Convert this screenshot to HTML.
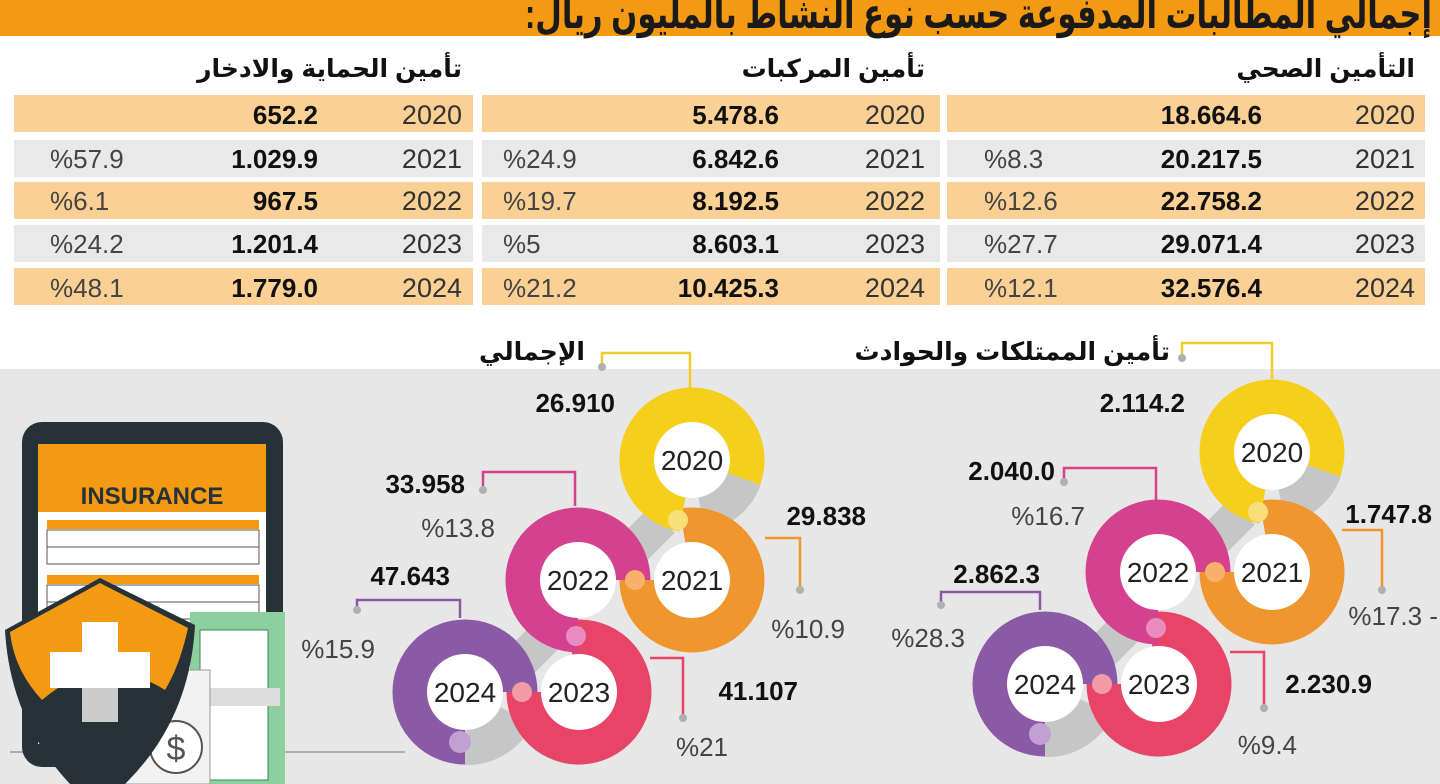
<!DOCTYPE html>
<html><head><meta charset="utf-8"><style>
html,body{margin:0;padding:0;background:#fff;}
svg{display:block;}
text{font-family:"Liberation Sans","DejaVu Sans",sans-serif;}
.yr{font-size:27px;fill:#333;}
.val{font-size:26px;font-weight:bold;fill:#111;}
.pct{font-size:26px;fill:#444;}
.hd{font-size:25px;font-weight:bold;fill:#111;}
.ry{font-size:28px;fill:#222;}
</style></head><body>
<svg width="1440" height="784" viewBox="0 0 1440 784" xmlns="http://www.w3.org/2000/svg">
<rect width="1440" height="784" fill="#fff"/>
<rect x="0" y="0" width="1440" height="36" fill="#f39a12"/>
<text x="525" y="28" textLength="907" lengthAdjust="spacingAndGlyphs" style="font-size:42px;font-weight:bold;fill:#1a1a1a">إجمالي المطالبات المدفوعة حسب نوع النشاط بالمليون ريال:&#x200F;</text>

<text class="hd" x="1415" y="77" text-anchor="end">التأمين الصحي</text>
<text class="hd" x="925" y="77" text-anchor="end">تأمين المركبات</text>
<text class="hd" x="462" y="77" text-anchor="end">تأمين الحماية والادخار</text>

<g>
<rect x="947" y="95" width="478" height="37" fill="#fbd095"/>
<rect x="482" y="95" width="458" height="37" fill="#fbd095"/>
<rect x="14" y="95" width="459" height="37" fill="#fbd095"/>
<rect x="947" y="140" width="478" height="37" fill="#e9e9e9"/>
<rect x="482" y="140" width="458" height="37" fill="#e9e9e9"/>
<rect x="14" y="140" width="459" height="37" fill="#e9e9e9"/>
<rect x="947" y="182" width="478" height="37" fill="#fbd095"/>
<rect x="482" y="182" width="458" height="37" fill="#fbd095"/>
<rect x="14" y="182" width="459" height="37" fill="#fbd095"/>
<rect x="947" y="225" width="478" height="37" fill="#e9e9e9"/>
<rect x="482" y="225" width="458" height="37" fill="#e9e9e9"/>
<rect x="14" y="225" width="459" height="37" fill="#e9e9e9"/>
<rect x="947" y="268" width="478" height="37" fill="#fbd095"/>
<rect x="482" y="268" width="458" height="37" fill="#fbd095"/>
<rect x="14" y="268" width="459" height="37" fill="#fbd095"/>
</g>
<g>
<text class="yr" x="1415" y="124" text-anchor="end">2020</text><text class="val" x="1262" y="124" text-anchor="end">18.664.6</text>
<text class="yr" x="1415" y="168" text-anchor="end">2021</text><text class="val" x="1262" y="168" text-anchor="end">20.217.5</text><text class="pct" x="984" y="168">%8.3</text>
<text class="yr" x="1415" y="210" text-anchor="end">2022</text><text class="val" x="1262" y="210" text-anchor="end">22.758.2</text><text class="pct" x="984" y="210">%12.6</text>
<text class="yr" x="1415" y="253" text-anchor="end">2023</text><text class="val" x="1262" y="253" text-anchor="end">29.071.4</text><text class="pct" x="984" y="253">%27.7</text>
<text class="yr" x="1415" y="297" text-anchor="end">2024</text><text class="val" x="1262" y="297" text-anchor="end">32.576.4</text><text class="pct" x="984" y="297">%12.1</text>
</g>
<g>
<text class="yr" x="925" y="124" text-anchor="end">2020</text><text class="val" x="779" y="124" text-anchor="end">5.478.6</text>
<text class="yr" x="925" y="168" text-anchor="end">2021</text><text class="val" x="779" y="168" text-anchor="end">6.842.6</text><text class="pct" x="503" y="168">%24.9</text>
<text class="yr" x="925" y="210" text-anchor="end">2022</text><text class="val" x="779" y="210" text-anchor="end">8.192.5</text><text class="pct" x="503" y="210">%19.7</text>
<text class="yr" x="925" y="253" text-anchor="end">2023</text><text class="val" x="779" y="253" text-anchor="end">8.603.1</text><text class="pct" x="503" y="253">%5</text>
<text class="yr" x="925" y="297" text-anchor="end">2024</text><text class="val" x="779" y="297" text-anchor="end">10.425.3</text><text class="pct" x="503" y="297">%21.2</text>
</g>
<g>
<text class="yr" x="462" y="124" text-anchor="end">2020</text><text class="val" x="318" y="124" text-anchor="end">652.2</text>
<text class="yr" x="462" y="168" text-anchor="end">2021</text><text class="val" x="318" y="168" text-anchor="end">1.029.9</text><text class="pct" x="50" y="168">%57.9</text>
<text class="yr" x="462" y="210" text-anchor="end">2022</text><text class="val" x="318" y="210" text-anchor="end">967.5</text><text class="pct" x="50" y="210">%6.1</text>
<text class="yr" x="462" y="253" text-anchor="end">2023</text><text class="val" x="318" y="253" text-anchor="end">1.201.4</text><text class="pct" x="50" y="253">%24.2</text>
<text class="yr" x="462" y="297" text-anchor="end">2024</text><text class="val" x="318" y="297" text-anchor="end">1.779.0</text><text class="pct" x="50" y="297">%48.1</text>
</g>

<rect x="0" y="369" width="1440" height="415" fill="#e7e7e7"/>
<line x1="10" y1="752" x2="405" y2="752" stroke="#999" stroke-width="1.5"/>

<text class="hd" x="585" y="360" text-anchor="end">الإجمالي</text>
<text class="hd" x="1170" y="360" text-anchor="end">تأمين الممتلكات والحوادث</text>

<defs>
<g id="rings">
  <g fill="none" stroke="#c6c6c6" stroke-width="36" stroke-linecap="butt">
    <path d="M 51.7 18.8 A 55 55 0 0 1 9.6 54.2"/>
    <line x1="-30" y1="60" x2="-70" y2="100"/>
    <line x1="-140" y1="170" x2="-180" y2="210"/>
    <path d="M -160 260 A 55 55 0 0 0 -113 287"/>
    <path d="M -227 287 A 55 55 0 0 0 -175 255"/>
  </g>
  <g fill="none" stroke-width="35">
    <path d="M -227 287 A 55 55 0 1 1 -172 232" stroke="#8a5aa6"/>
    <path d="M -122.6 177.8 A 55 55 0 1 1 -168 232" stroke="#e84468"/>
    <path d="M -114 175 A 55 55 0 1 1 -59 120" stroke="#d3418f"/>
    <path d="M -9.6 65.8 A 55 55 0 1 1 -55 120" stroke="#f0962e"/>
    <path d="M -9.6 54.2 A 55 55 0 1 1 51.7 18.8" stroke="#f5cf1c"/>
  </g>
  <circle cx="-14" cy="60" r="10" fill="#f8df7a"/>
  <circle cx="-116" cy="176" r="10" fill="#e98bbf"/>
  <circle cx="-232" cy="282" r="11" fill="#c2a0d4"/>
  <g fill="#fff">
    <circle cx="0" cy="0" r="38"/>
    <circle cx="0" cy="120" r="38"/>
    <circle cx="-114" cy="120" r="38"/>
    <circle cx="-113" cy="232" r="38"/>
    <circle cx="-227" cy="232" r="38"/>
  </g>
  <circle cx="-57" cy="120" r="10" fill="#f8b06a"/>
  <circle cx="-170" cy="232" r="10" fill="#f29aa6"/>
  <text class="ry" x="0" y="10" text-anchor="middle">2020</text>
  <text class="ry" x="0" y="130" text-anchor="middle">2021</text>
  <text class="ry" x="-114" y="130" text-anchor="middle">2022</text>
  <text class="ry" x="-113" y="242" text-anchor="middle">2023</text>
  <text class="ry" x="-227" y="242" text-anchor="middle">2024</text>
</g>
</defs>
<use href="#rings" x="692" y="460"/>
<use href="#rings" x="1272" y="452"/>

<g fill="none" stroke-width="2.5">
<polyline points="602,367 602,353 690,353 690,388" stroke="#f0cd2a"/>
<polyline points="483,490 483,472 575,472 575,506" stroke="#d3418f"/>
<polyline points="765,538 800,538 800,590" stroke="#f0962e"/>
<polyline points="357,610 357,600 460,600 460,618" stroke="#8a5aa6"/>
<polyline points="650,658 683,658 683,718" stroke="#e84468"/>
<polyline points="1182,358 1182,343 1272,343 1272,379" stroke="#f0cd2a"/>
<polyline points="1064,482 1064,468 1156,468 1156,500" stroke="#d3418f"/>
<polyline points="1342,530 1382,530 1382,590" stroke="#f0962e"/>
<polyline points="941,605 941,592 1040,592 1040,610" stroke="#8a5aa6"/>
<polyline points="1230,652 1264,652 1264,708" stroke="#e84468"/>
</g>
<g fill="#b0b0b0">
<circle cx="602" cy="367" r="4"/><circle cx="483" cy="490" r="4"/><circle cx="800" cy="590" r="4"/><circle cx="357" cy="610" r="4"/><circle cx="683" cy="718" r="4"/>
<circle cx="1182" cy="358" r="4"/><circle cx="1064" cy="482" r="4"/><circle cx="1382" cy="590" r="4"/><circle cx="941" cy="605" r="4"/><circle cx="1264" cy="708" r="4"/>
</g>

<text class="val" x="615" y="412" text-anchor="end">26.910</text>
<text class="val" x="465" y="493" text-anchor="end">33.958</text>
<text class="pct" x="495" y="537" text-anchor="end">%13.8</text>
<text class="val" x="866" y="525" text-anchor="end">29.838</text>
<text class="pct" x="845" y="638" text-anchor="end">%10.9</text>
<text class="val" x="450" y="585" text-anchor="end">47.643</text>
<text class="pct" x="375" y="658" text-anchor="end">%15.9</text>
<text class="val" x="798" y="700" text-anchor="end">41.107</text>
<text class="pct" x="728" y="756" text-anchor="end">%21</text>

<text class="val" x="1185" y="412" text-anchor="end">2.114.2</text>
<text class="val" x="1055" y="480" text-anchor="end">2.040.0</text>
<text class="pct" x="1085" y="525" text-anchor="end">%16.7</text>
<text class="val" x="1432" y="523" text-anchor="end">1.747.8</text>
<text class="pct" x="1438" y="625" text-anchor="end">%17.3 -</text>
<text class="val" x="1040" y="583" text-anchor="end">2.862.3</text>
<text class="pct" x="965" y="647" text-anchor="end">%28.3</text>
<text class="val" x="1372" y="693" text-anchor="end">2.230.9</text>
<text class="pct" x="1297" y="754" text-anchor="end">%9.4</text>

<rect x="22" y="422" width="261" height="345" rx="20" fill="#263238"/>
<rect x="38" y="444" width="228" height="300" fill="#fff"/>
<rect x="38" y="444" width="228" height="68" fill="#f39a12"/>
<text x="152" y="504" text-anchor="middle" style="font-size:24px;font-weight:bold;fill:#263238">INSURANCE</text>
<g fill="#f39a12"><rect x="47" y="520" width="212" height="9"/><rect x="47" y="575" width="212" height="9"/></g>
<g fill="none" stroke="#555" stroke-width="1"><rect x="47" y="530" width="212" height="17"/><rect x="47" y="547" width="212" height="17"/><rect x="47" y="585" width="212" height="17"/><rect x="47" y="602" width="212" height="17"/></g>
<rect x="190" y="612" width="95" height="172" fill="#8dcf9f"/>
<rect x="200" y="630" width="68" height="150" fill="#fff" stroke="#3a8a55"/>
<rect x="210" y="688" width="70" height="18" fill="#ddd"/>
<rect x="125" y="670" width="85" height="114" fill="#f2f2f2" stroke="#999"/>
<circle cx="176" cy="747" r="26" fill="#fff" stroke="#555" stroke-width="2"/>
<text x="176" y="760" text-anchor="middle" style="font-size:34px;fill:#555">$</text>
<path d="M5,630 L100,578 L195,625 Q190,720 125,784 L70,784 Q10,720 5,630 Z" fill="#263238"/>
<path d="M10,632 L100,583 L188,628 Q180,665 165,690 Q100,650 42,700 Q14,670 10,632 Z" fill="#f39a12"/>
<g fill="#fff"><rect x="82" y="622" width="36" height="100"/><rect x="50" y="652" width="100" height="36"/></g>
<rect x="82" y="688" width="36" height="34" fill="#ccc"/>
</svg>
</body></html>
